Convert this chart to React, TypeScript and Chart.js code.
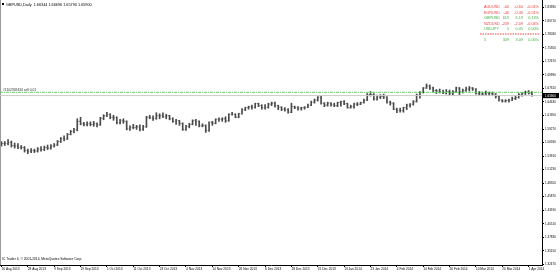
import React, { useEffect, useRef } from "react";
import { Chart, registerables } from "chart.js";
Chart.register(...registerables);

// ---- categories (trading days) ----
const months = [
  { m: "Aug 2013", d: [16, 19, 20, 21, 22, 23, 26, 27, 28, 29, 30] },
  { m: "Sep 2013", d: [2, 3, 4, 5, 6, 9, 10, 11, 12, 13, 16, 17, 18, 19, 20, 23, 24, 25, 26, 27, 30] },
  { m: "Oct 2013", d: [1, 2, 3, 4, 7, 8, 9, 10, 11, 14, 15, 16, 17, 18, 21, 22, 23, 24, 25, 28, 29, 30, 31] },
  { m: "Nov 2013", d: [1, 4, 5, 6, 7, 8, 11, 12, 13, 14, 15, 18, 19, 20, 21, 22, 25, 26, 27, 28, 29] },
  { m: "Dec 2013", d: [2, 3, 4, 5, 6, 9, 10, 11, 12, 13, 16, 17, 18, 19, 20, 23, 24, 26, 27, 30, 31] },
  { m: "Jan 2014", d: [2, 3, 6, 7, 8, 9, 10, 13, 14, 15, 16, 17, 20, 21, 22, 23, 24, 27, 28, 29, 30, 31] },
  { m: "Feb 2014", d: [3, 4, 5, 6, 7, 10, 11, 12, 13, 14, 17, 18, 19, 20, 21, 24, 25, 26, 27, 28] },
  { m: "Mar 2014", d: [3, 4, 5, 6, 7, 10, 11, 12, 13, 14, 17, 18, 19, 20, 21, 24, 25, 26, 27, 28, 31] },
  { m: "Apr 2014", d: [1, 2] },
];
const categories: string[] = [];
months.forEach((mo) => mo.d.forEach((d) => categories.push(`${d} ${mo.m}`)));

// ---- OHLC series ----
const opens = [
  1.5600, 1.5640, 1.5640, 1.5660, 1.5600, 1.5590, 1.5570, 1.5560, 1.5500, 1.5490, 1.5500,
  1.5490, 1.5530, 1.5520, 1.5560, 1.5550, 1.5590, 1.5610, 1.5680, 1.5740, 1.5730, 1.5820, 1.5880, 1.5910, 1.6080, 1.6030, 1.6020, 1.6030, 1.6020, 1.6030, 1.6010, 1.6140,
  1.6190, 1.6220, 1.6160, 1.6150, 1.6050, 1.6090, 1.6080, 1.5930, 1.5960, 1.5960, 1.5970, 1.5920, 1.5970, 1.6160, 1.6150, 1.6140, 1.6190, 1.6190, 1.6170, 1.6190, 1.6130, 1.6080, 1.6090,
  1.6040, 1.5920, 1.5980, 1.6020, 1.6090, 1.6080, 1.5990, 1.6000, 1.5900, 1.6060, 1.6040, 1.6120, 1.6120, 1.6130, 1.6090, 1.6220, 1.6220, 1.6160, 1.6230, 1.6310, 1.6350,
  1.6370, 1.6360, 1.6430, 1.6390, 1.6350, 1.6360, 1.6420, 1.6440, 1.6390, 1.6360, 1.6320, 1.6310, 1.6260, 1.6370, 1.6350, 1.6340, 1.6350, 1.6360, 1.6400, 1.6460, 1.6500,
  1.6560, 1.6440, 1.6400, 1.6440, 1.6410, 1.6390, 1.6450, 1.6470, 1.6430, 1.6350, 1.6370, 1.6420, 1.6420, 1.6450, 1.6500, 1.6610, 1.6610, 1.6520, 1.6560, 1.6570, 1.6560, 1.6460,
  1.6440, 1.6320, 1.6300, 1.6290, 1.6350, 1.6400, 1.6420, 1.6470, 1.6600, 1.6650, 1.6740, 1.6780, 1.6740, 1.6690, 1.6680, 1.6660, 1.6640, 1.6670, 1.6640, 1.6670,
  1.6740, 1.6660, 1.6690, 1.6720, 1.6740, 1.6720, 1.6630, 1.6620, 1.6620, 1.6640, 1.6630, 1.6620, 1.6570, 1.6500, 1.6480, 1.6490, 1.6500, 1.6530, 1.6550, 1.6610, 1.6640,
  1.6660, 1.66344,
];
const highs = [
  1.5680, 1.5680, 1.5720, 1.5690, 1.5650, 1.5640, 1.5600, 1.5580, 1.5530, 1.5540, 1.5530,
  1.5560, 1.5580, 1.5590, 1.5610, 1.5620, 1.5640, 1.5700, 1.5760, 1.5790, 1.5840, 1.5900, 1.5940, 1.6130, 1.6160, 1.6060, 1.6070, 1.6070, 1.6080, 1.6050, 1.6160, 1.6210,
  1.6260, 1.6230, 1.6200, 1.6170, 1.6120, 1.6130, 1.6090, 1.5990, 1.6020, 1.6000, 1.6010, 1.6000, 1.6180, 1.6200, 1.6190, 1.6250, 1.6230, 1.6250, 1.6220, 1.6200, 1.6150, 1.6120, 1.6100,
  1.6050, 1.6000, 1.6040, 1.6110, 1.6120, 1.6090, 1.6030, 1.6010, 1.6070, 1.6080, 1.6130, 1.6150, 1.6150, 1.6170, 1.6230, 1.6260, 1.6230, 1.6240, 1.6330, 1.6360, 1.6380,
  1.6400, 1.6440, 1.6440, 1.6410, 1.6410, 1.6440, 1.6460, 1.6460, 1.6400, 1.6370, 1.6350, 1.6330, 1.6440, 1.6380, 1.6370, 1.6360, 1.6370, 1.6420, 1.6480, 1.6520, 1.6570,
  1.6580, 1.6450, 1.6460, 1.6450, 1.6440, 1.6460, 1.6480, 1.6490, 1.6440, 1.6400, 1.6440, 1.6450, 1.6460, 1.6520, 1.6630, 1.6670, 1.6630, 1.6600, 1.6610, 1.6620, 1.6570, 1.6480,
  1.6450, 1.6340, 1.6340, 1.6360, 1.6420, 1.6430, 1.6490, 1.6620, 1.6670, 1.6750, 1.6820, 1.6800, 1.6760, 1.6710, 1.6720, 1.6700, 1.6710, 1.6700, 1.6690, 1.6760,
  1.6750, 1.6720, 1.6760, 1.6770, 1.6750, 1.6730, 1.6670, 1.6660, 1.6680, 1.6660, 1.6660, 1.6630, 1.6590, 1.6510, 1.6510, 1.6520, 1.6560, 1.6580, 1.6630, 1.6650, 1.6680,
  1.6690, 1.66696,
];
const lows = [
  1.5590, 1.5600, 1.5610, 1.5570, 1.5550, 1.5540, 1.5530, 1.5470, 1.5440, 1.5460, 1.5460,
  1.5470, 1.5490, 1.5500, 1.5520, 1.5530, 1.5570, 1.5600, 1.5660, 1.5690, 1.5720, 1.5810, 1.5850, 1.5890, 1.6010, 1.5990, 1.5990, 1.5990, 1.5980, 1.5970, 1.6000, 1.6110,
  1.6170, 1.6130, 1.6100, 1.6030, 1.6030, 1.6040, 1.5910, 1.5900, 1.5930, 1.5920, 1.5890, 1.5900, 1.5960, 1.6130, 1.6100, 1.6120, 1.6130, 1.6150, 1.6130, 1.6110, 1.6060, 1.6020, 1.6000,
  1.5900, 1.5900, 1.5950, 1.6010, 1.6000, 1.5970, 1.5970, 1.5860, 1.5880, 1.6000, 1.6030, 1.6080, 1.6080, 1.6060, 1.6080, 1.6200, 1.6150, 1.6150, 1.6220, 1.6290, 1.6320,
  1.6320, 1.6340, 1.6370, 1.6320, 1.6320, 1.6340, 1.6390, 1.6360, 1.6310, 1.6290, 1.6280, 1.6240, 1.6250, 1.6330, 1.6300, 1.6300, 1.6320, 1.6350, 1.6390, 1.6440, 1.6480,
  1.6420, 1.6370, 1.6380, 1.6380, 1.6370, 1.6370, 1.6380, 1.6410, 1.6340, 1.6340, 1.6340, 1.6390, 1.6410, 1.6440, 1.6490, 1.6580, 1.6500, 1.6500, 1.6530, 1.6530, 1.6440, 1.6400,
  1.6310, 1.6250, 1.6260, 1.6260, 1.6310, 1.6360, 1.6400, 1.6460, 1.6540, 1.6640, 1.6730, 1.6710, 1.6660, 1.6630, 1.6640, 1.6630, 1.6620, 1.6600, 1.6600, 1.6650,
  1.6610, 1.6640, 1.6670, 1.6680, 1.6690, 1.6620, 1.6600, 1.6590, 1.6600, 1.6590, 1.6590, 1.6540, 1.6480, 1.6460, 1.6460, 1.6460, 1.6490, 1.6510, 1.6540, 1.6580, 1.6610,
  1.6620, 1.6579,
];
const closes = [
  1.5640, 1.5640, 1.5660, 1.5600, 1.5590, 1.5570, 1.5560, 1.5500, 1.5490, 1.5500, 1.5490,
  1.5530, 1.5520, 1.5560, 1.5550, 1.5590, 1.5610, 1.5680, 1.5740, 1.5730, 1.5820, 1.5880, 1.5910, 1.6080, 1.6030, 1.6020, 1.6030, 1.6020, 1.6030, 1.6010, 1.6140, 1.6190,
  1.6220, 1.6160, 1.6150, 1.6050, 1.6090, 1.6080, 1.5930, 1.5960, 1.5960, 1.5970, 1.5920, 1.5970, 1.6160, 1.6150, 1.6140, 1.6190, 1.6190, 1.6170, 1.6190, 1.6130, 1.6080, 1.6090, 1.6040,
  1.5920, 1.5980, 1.6020, 1.6090, 1.6080, 1.5990, 1.6000, 1.5900, 1.6060, 1.6040, 1.6120, 1.6120, 1.6130, 1.6090, 1.6220, 1.6220, 1.6160, 1.6230, 1.6310, 1.6350, 1.6370,
  1.6360, 1.6430, 1.6390, 1.6350, 1.6360, 1.6420, 1.6440, 1.6390, 1.6360, 1.6320, 1.6310, 1.6260, 1.6370, 1.6350, 1.6340, 1.6350, 1.6360, 1.6400, 1.6460, 1.6500, 1.6560,
  1.6440, 1.6400, 1.6440, 1.6410, 1.6390, 1.6450, 1.6470, 1.6430, 1.6350, 1.6370, 1.6420, 1.6420, 1.6450, 1.6500, 1.6610, 1.6610, 1.6520, 1.6560, 1.6570, 1.6560, 1.6460, 1.6440,
  1.6320, 1.6300, 1.6290, 1.6350, 1.6400, 1.6420, 1.6470, 1.6600, 1.6650, 1.6740, 1.6780, 1.6740, 1.6690, 1.6680, 1.6660, 1.6640, 1.6670, 1.6640, 1.6670, 1.6740,
  1.6660, 1.6690, 1.6720, 1.6740, 1.6720, 1.6630, 1.6620, 1.6620, 1.6640, 1.6630, 1.6620, 1.6570, 1.6500, 1.6480, 1.6490, 1.6500, 1.6530, 1.6550, 1.6610, 1.6640, 1.6660,
  1.6630, 1.6590,
];

// ---- axis ticks ----
const xTickLabels = [
  "16 Aug 2013", "28 Aug 2013", "9 Sep 2013", "19 Sep 2013", "1 Oct 2013", "11 Oct 2013", "23 Oct 2013",
  "4 Nov 2013", "14 Nov 2013", "26 Nov 2013", "6 Dec 2013", "18 Dec 2013", "31 Dec 2013", "13 Jan 2014",
  "23 Jan 2014", "4 Feb 2014", "14 Feb 2014", "26 Feb 2014", "10 Mar 2014", "20 Mar 2014", "1 Apr 2014",
];
const yTickValues = [
  1.8339, 1.8071, 1.7803, 1.7535, 1.7267, 1.6999, 1.6731, 1.6463, 1.6195, 1.5927,
  1.5659, 1.5391, 1.5123, 1.4855, 1.4587, 1.4319, 1.4051, 1.3783, 1.3515, 1.3247,
];

// ---- annotations / texts ----
const symbolTitle = "GBPUSD,Daily";
const orderLabel = "#1102949434 sell 0.01";
const orderPrice = 1.6655;
const footerText = "IC Trader 4, © 2001-2014, MetaQuotes Software Corp.";
const tblSymbols = ["AUDUSD", "EURUSD", "GBPUSD", "NZDUSD", "USDJPY"];
const tblPoints = ["-60", "-46", "619", "-209", "5"];
const tblProfit = ["-0.60", "-0.46", "6.19", "-2.09", "0.05"];
const tblPercent = ["-0.01%", "-0.01%", "0.13%", "-0.04%", "0.00%"];
const tblTotal = ["5", "309", "3.09", "0.06%"];

const BAR_COLOR = "#4a4a4a";
const RED = "#ee4444";
const GREEN = "#44b044";
const FONT = '"Liberation Sans", Arial, sans-serif';

const overlayPlugin = {
  id: "mt4overlay",
  afterDraw(chart: any) {
    const { ctx, chartArea: a, scales } = chart;
    const x = scales.x;
    const y = scales.y;
    ctx.save();
    // open / close ticks
    ctx.strokeStyle = BAR_COLOR;
    ctx.lineWidth = 0.8;
    ctx.beginPath();
    for (let i = 0; i < closes.length; i++) {
      const px = x.getPixelForValue(i);
      const yo = y.getPixelForValue(opens[i]);
      const yc = y.getPixelForValue(closes[i]);
      ctx.moveTo(px - 1.3, yo);
      ctx.lineTo(px - 0.5, yo);
      ctx.moveTo(px + 0.5, yc);
      ctx.lineTo(px + 1.3, yc);
    }
    ctx.stroke();
    ctx.lineWidth = 1;

    // left border
    ctx.strokeStyle = "#9a9a9a";
    ctx.beginPath();
    ctx.moveTo(a.left + 0.5, a.top);
    ctx.lineTo(a.left + 0.5, a.bottom);
    ctx.stroke();

    // bid line
    const last = closes.length - 1;
    const yb = y.getPixelForValue(closes[last]);
    ctx.strokeStyle = "#cccccc";
    ctx.beginPath();
    ctx.moveTo(a.left, yb);
    ctx.lineTo(a.right, yb);
    ctx.stroke();

    // order line
    const ys = y.getPixelForValue(orderPrice);
    ctx.strokeStyle = "#66cc66";
    ctx.setLineDash([3, 1, 1, 1]);
    ctx.beginPath();
    ctx.moveTo(a.left, ys);
    ctx.lineTo(a.right, ys);
    ctx.stroke();
    ctx.setLineDash([]);

    ctx.textBaseline = "alphabetic";
    ctx.fillStyle = "#333";
    ctx.font = `3.3px ${FONT}`;
    ctx.textAlign = "left";
    ctx.fillText(orderLabel, a.left + 3, ys - 1.3);

    // header
    ctx.fillStyle = "#000";
    ctx.fillRect(a.left + 2, 3, 2, 2);
    ctx.font = `3.8px ${FONT}`;
    const hdr = `${symbolTitle}  ${opens[last].toFixed(5)} ${highs[last].toFixed(5)} ${lows[last].toFixed(5)} ${closes[last].toFixed(5)}`;
    ctx.fillText(hdr, a.left + 6, 5.6);

    // footer
    ctx.font = `3.3px ${FONT}`;
    ctx.fillText(footerText, a.left + 2, a.bottom - 5);

    // table
    ctx.font = `3.8px ${FONT}`;
    const c1 = a.right - 58, c2 = a.right - 33, c3 = a.right - 19, c4 = a.right - 3;
    tblSymbols.forEach((s, i) => {
      const neg = tblPoints[i].startsWith("-");
      ctx.fillStyle = neg ? RED : GREEN;
      const yy = 8 + i * 5.6;
      ctx.textAlign = "left";
      ctx.fillText(s, c1, yy);
      ctx.textAlign = "right";
      ctx.fillText(tblPoints[i], c2, yy);
      ctx.fillText(tblProfit[i], c3, yy);
      ctx.fillText(tblPercent[i], c4, yy);
    });
    ctx.strokeStyle = RED;
    ctx.setLineDash([1.5, 1]);
    ctx.beginPath();
    ctx.moveTo(c1 - 4, 34);
    ctx.lineTo(c4, 34);
    ctx.stroke();
    ctx.setLineDash([]);
    ctx.fillStyle = GREEN;
    ctx.textAlign = "left";
    ctx.fillText(tblTotal[0], c1, 40.5);
    ctx.textAlign = "right";
    ctx.fillText(tblTotal[1], c2, 40.5);
    ctx.fillText(tblTotal[2], c3, 40.5);
    ctx.fillText(tblTotal[3], c4, 40.5);

    // price box on axis
    ctx.fillStyle = "#000";
    ctx.fillRect(a.right + 1, yb - 2.6, 16, 5.2);
    ctx.fillStyle = "#fff";
    ctx.textAlign = "left";
    ctx.textBaseline = "middle";
    ctx.font = `3px ${FONT}`;
    ctx.fillText(closes[last].toFixed(5), a.right + 3, yb + 0.2);
    ctx.restore();
  },
};

export default function App() {
  const ref = useRef<HTMLCanvasElement>(null);
  useEffect(() => {
    if (!ref.current) return;
    const xTickIdx = xTickLabels.map((l) => categories.indexOf(l));
    const chart = new Chart(ref.current, {
      type: "bar",
      data: {
        datasets: [
          {
            data: closes.map((_, i) => ({ x: i, y: [lows[i], highs[i]] })) as any,
            backgroundColor: BAR_COLOR,
            borderWidth: 0,
            barThickness: 1,
          },
        ],
      },
      options: {
        animation: false,
        responsive: true,
        maintainAspectRatio: false,
        layout: { padding: 0 },
        plugins: { legend: { display: false }, tooltip: { enabled: false } },
        scales: {
          x: {
            type: "linear",
            min: -0.45,
            max: 164.05,
            offset: false,
            grid: { display: true, drawOnChartArea: false, drawTicks: true, tickLength: 2, color: "#000", offset: false },
            border: { display: true, color: "#000" },
            ticks: {
              align: "start",
              autoSkip: false,
              maxRotation: 0,
              padding: 0,
              color: "#000",
              font: { size: 3.2, family: FONT },
              callback: (v: any) => categories[Math.round(Number(v))] ?? "",
            },
            afterBuildTicks: (s: any) => {
              s.ticks = xTickIdx.map((v) => ({ value: v }));
            },
            afterFit: (s: any) => {
              s.height = 9;
              s.paddingLeft = 0;
              s.paddingRight = 0;
            },
          },
          y: {
            type: "linear",
            position: "right",
            min: 1.32331,
            max: 1.84836,
            grid: { display: true, drawOnChartArea: false, drawTicks: true, tickLength: 2, color: "#000" },
            border: { display: true, color: "#000" },
            ticks: {
              padding: 1,
              color: "#000",
              font: { size: 3, family: FONT },
              callback: (v: any) => Number(v).toFixed(5),
            },
            afterBuildTicks: (s: any) => {
              s.ticks = yTickValues.map((v) => ({ value: v }));
            },
            afterFit: (s: any) => {
              s.width = 18;
              s.paddingTop = 0;
              s.paddingBottom = 0;
            },
          },
        },
      },
      plugins: [overlayPlugin],
    });
    return () => chart.destroy();
  }, []);
  return (
    <div style={{ position: "absolute", left: 0, top: 0, width: 560, height: 274, background: "#fff" }}>
      <canvas ref={ref} />
    </div>
  );
}
